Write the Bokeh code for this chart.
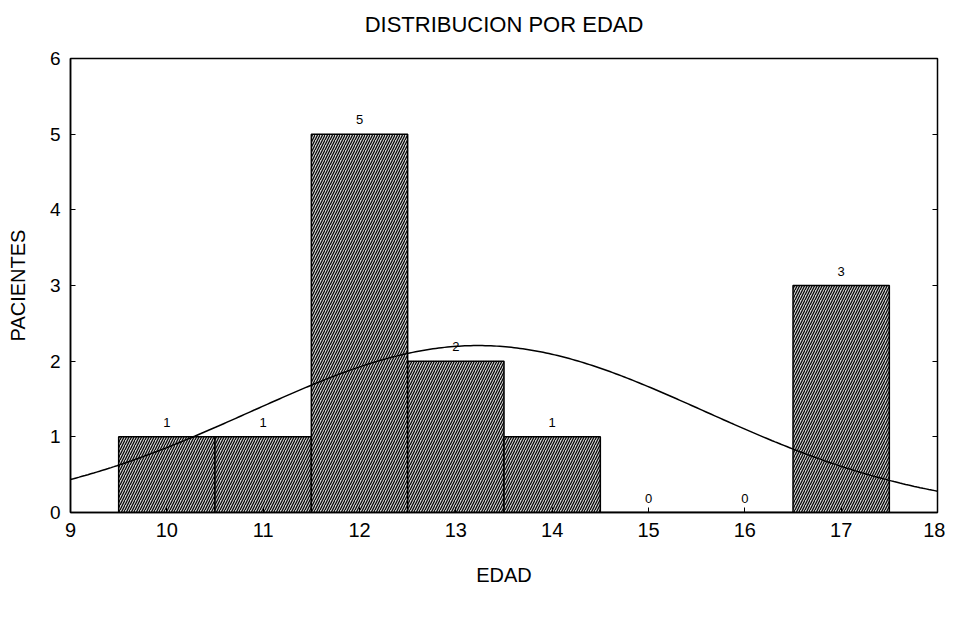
import math
import numpy as np
from bokeh.plotting import figure
from bokeh.models import ColumnDataSource, Range1d, LinearAxis, FixedTicker
from bokeh.core.properties import value
from bokeh.embed import file_html
from bokeh.resources import INLINE

# ---- data ----
edad = [10, 11, 12, 13, 14, 15, 16, 17]
pacientes = [1, 1, 5, 2, 1, 0, 0, 3]
x_ticks = [9, 10, 11, 12, 13, 14, 15, 16, 17, 18]
y_ticks = [0, 1, 2, 3, 4, 5, 6]
titulo = "DISTRIBUCION POR EDAD"
x_label = "EDAD"
y_label = "PACIENTES"

FONT = "Liberation Sans"
X0, X1 = x_ticks[0], x_ticks[-1]
Y0, Y1 = y_ticks[0], y_ticks[-1]

# normal curve fitted to the histogram counts (bin width 1)
n = sum(pacientes)
media = sum(e * c for e, c in zip(edad, pacientes)) / n
desv = math.sqrt(sum(c * (e - media) ** 2 for e, c in zip(edad, pacientes)) / (n - 1))
curva_x = np.linspace(X0, X1, 300)
curva_y = n * np.exp(-0.5 * ((curva_x - media) / desv) ** 2) / (desv * math.sqrt(2 * math.pi))

bars = ColumnDataSource(dict(
    left=[e - 0.5 for e in edad],
    right=[e + 0.5 for e in edad],
    top=pacientes,
    bottom=[0] * len(edad),
    x=edad,
    lbl=[str(c) for c in pacientes],
))

p = figure(width=945, height=612, output_backend="svg", toolbar_location=None,
           x_range=Range1d(X0, X1), y_range=Range1d(Y0, Y1),
           min_border_left=70, min_border_right=8, min_border_top=58, min_border_bottom=100)

p.xgrid.visible = False
p.ygrid.visible = False
p.outline_line_color = "black"
p.outline_line_width = 1.5
p.background_fill_color = "white"
p.border_fill_color = "white"

p.quad(left="left", right="right", top="top", bottom="bottom", source=bars,
       fill_color="#d0d0d0", line_color="black", line_width=1.5,
       hatch_pattern="/", hatch_color="black", hatch_scale=5, hatch_weight=1.2)

p.text(x="x", y="top", text="lbl", source=bars, text_align="center", text_baseline="bottom",
       y_offset=-10, text_font_size=value("13px"), text_color="black", text_font=value(FONT))

p.line(curva_x, curva_y, line_color="black", line_width=1.5)

xa = p.below[0]
ya = p.left[0]

xa.ticker = FixedTicker(ticks=x_ticks)
xa.axis_label = x_label
xa.axis_label_text_font = FONT
xa.axis_label_text_font_size = "20px"
xa.axis_label_text_font_style = "normal"
xa.axis_label_text_color = "black"
xa.axis_label_standoff = 24
xa.major_label_text_font = FONT
xa.major_label_text_font_size = "20px"
xa.major_label_text_color = "black"
xa.major_label_standoff = 10
xa.major_tick_in = 5
xa.major_tick_out = 0
xa.major_tick_line_color = "black"
xa.minor_tick_line_color = None
xa.axis_line_color = "black"
xa.axis_line_width = 1.5

ya.ticker = FixedTicker(ticks=y_ticks)
ya.axis_label = y_label
ya.axis_label_text_font = FONT
ya.axis_label_text_font_size = "20px"
ya.axis_label_text_font_style = "normal"
ya.axis_label_text_color = "black"
ya.axis_label_standoff = 18
ya.major_label_text_font = FONT
ya.major_label_text_font_size = "19px"
ya.major_label_text_color = "black"
ya.major_label_standoff = 10
ya.major_tick_in = 5
ya.major_tick_out = 0
ya.major_tick_line_color = "black"
ya.minor_tick_line_color = None
ya.axis_line_color = "black"
ya.axis_line_width = 1.5

# chart title, drawn as the label of a bare top axis so it sits centred over the frame
ta = LinearAxis(ticker=FixedTicker(ticks=[]), axis_label=titulo,
                axis_label_text_font=FONT, axis_label_text_font_size="22px",
                axis_label_text_font_style="normal", axis_label_text_color="black",
                axis_label_standoff=22, major_tick_line_color=None,
                minor_tick_line_color=None, axis_line_color="black")
p.add_layout(ta, "above")

ra = LinearAxis(ticker=FixedTicker(ticks=y_ticks),
                major_label_overrides={t: "" for t in y_ticks},
                major_tick_in=5, major_tick_out=0, minor_tick_line_color=None,
                major_tick_line_color="black",
                major_label_standoff=0, axis_line_color="black")
p.add_layout(ra, "right")

open("out.html", "w").write(file_html(p, INLINE))
